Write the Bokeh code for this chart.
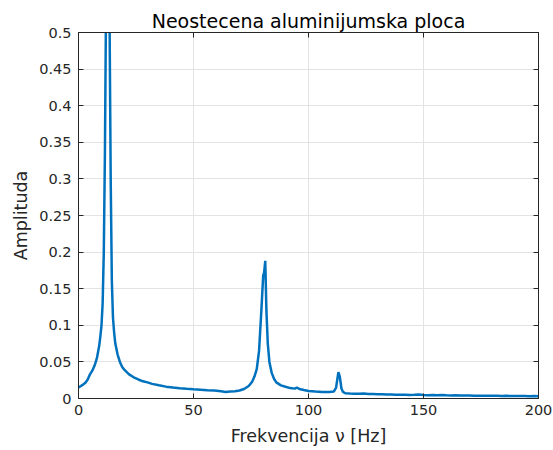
from bokeh.plotting import figure
from bokeh.models import LinearAxis, FixedTicker, Range1d
from bokeh.embed import file_html
from bokeh.resources import INLINE

# Spectrum of the untreated aluminium plate
freq_hz = [0, 1, 2, 3, 4, 5, 6, 7, 8, 9, 9.5, 10, 10.5, 11, 11.5, 12, 12.5, 13, 13.5, 14,
           14.5, 15, 15.5, 16, 17, 18, 19, 20, 22, 24, 26, 28, 30, 32, 35, 38, 41, 44, 47, 50,
           53, 56, 59, 62, 64, 66, 68, 70, 72, 74, 75.5, 76.5, 77.5, 78.5, 79.5, 80.3, 80.7,
           81.2, 81.7, 82.3, 83, 84, 85, 86, 88, 90, 92, 94, 95, 96, 98, 100, 103, 106, 109,
           111, 112, 113, 113.6, 114.3, 115, 116, 118, 120, 122, 124, 126, 128, 130, 132, 134,
           136, 138, 140, 142, 144, 146, 148, 150, 152, 154, 156, 158, 160, 162, 164, 166, 168,
           170, 172, 174, 176, 178, 180, 182, 184, 186, 188, 190, 192, 194, 196, 198, 200]
amplitude = [0.0152, 0.0170, 0.0190, 0.0215, 0.0260, 0.0330, 0.0380, 0.0450, 0.0550, 0.0720,
             0.0850, 0.1000, 0.1300, 0.2000, 0.3400, 0.5500, 1.1000, 0.9000, 0.5200, 0.3000,
             0.1600, 0.1100, 0.0900, 0.0750, 0.0600, 0.0500, 0.0430, 0.0390, 0.0330, 0.0290,
             0.0260, 0.0235, 0.0220, 0.0200, 0.0180, 0.0162, 0.0150, 0.0140, 0.0132, 0.0125,
             0.0120, 0.0112, 0.0110, 0.0100, 0.0090, 0.0095, 0.0100, 0.0110, 0.0130, 0.0170,
             0.0230, 0.0300, 0.0400, 0.0650, 0.1200, 0.1680, 0.1720, 0.1880, 0.1200, 0.0750,
             0.0500, 0.0350, 0.0270, 0.0220, 0.0180, 0.0160, 0.0142, 0.0135, 0.0150, 0.0130,
             0.0115, 0.0102, 0.0095, 0.0090, 0.0088, 0.0095, 0.0150, 0.0360, 0.0300, 0.0140,
             0.0090, 0.0072, 0.0068, 0.0066, 0.0065, 0.0068, 0.0062, 0.0060, 0.0058, 0.0057,
             0.0055, 0.0054, 0.0052, 0.0050, 0.0052, 0.0049, 0.0050, 0.0053, 0.0048, 0.0046,
             0.0047, 0.0045, 0.0048, 0.0044, 0.0042, 0.0043, 0.0041, 0.0040, 0.0041, 0.0039,
             0.0038, 0.0039, 0.0037, 0.0036, 0.0037, 0.0035, 0.0036, 0.0034, 0.0035, 0.0033,
             0.0034, 0.0032, 0.0033, 0.0032]

x_ticks = [0, 50, 100, 150, 200]
y_ticks = [0, 0.05, 0.1, 0.15, 0.2, 0.25, 0.3, 0.35, 0.4, 0.45, 0.5]
y_tick_labels = ["0", "0.05", "0.1", "0.15", "0.2", "0.25", "0.3", "0.35", "0.4", "0.45", "0.5"]

FONT = "DejaVu Sans"
INK = "#262626"

p = figure(width=553, height=450, output_backend="svg", toolbar_location=None,
           x_range=Range1d(0, 200), y_range=Range1d(0, 0.5),
           min_border_left=78, min_border_right=15, min_border_top=32, min_border_bottom=52,
           title="Neostecena aluminijumska ploca")
p.background_fill_color = "white"
p.border_fill_color = "white"
p.outline_line_color = INK
p.outline_line_width = 1

p.title.align = "center"
p.title.text_font = FONT
p.title.text_font_size = "19px"
p.title.text_font_style = "normal"
p.title.text_color = "black"
p.title.offset = 0
p.title.standoff = 2

p.line(freq_hz, amplitude, line_color="#0072BD", line_width=2.5)

p.xaxis.ticker = FixedTicker(ticks=x_ticks)
p.yaxis.ticker = FixedTicker(ticks=y_ticks)
p.yaxis.major_label_overrides = {t: s for t, s in zip(y_ticks, y_tick_labels)}
p.xaxis.axis_label = "Frekvencija ν [Hz]"
p.yaxis.axis_label = "Amplituda"

for ax in (p.xaxis[0], p.yaxis[0]):
    ax.axis_line_color = INK
    ax.major_tick_line_color = INK
    ax.major_tick_in = 5
    ax.major_tick_out = 0
    ax.minor_tick_line_color = None
    ax.major_label_text_font = FONT
    ax.major_label_text_font_size = "14.5px"
    ax.major_label_text_color = INK
    ax.axis_label_text_font = FONT
    ax.axis_label_text_font_size = "17.5px"
    ax.axis_label_text_font_style = "normal"
    ax.axis_label_text_color = INK
p.xaxis.major_label_standoff = 6
p.xaxis.axis_label_standoff = 8
p.yaxis.major_label_standoff = 7
p.yaxis.axis_label_standoff = 5

# tick marks along the top and right edges of the box, without labels
top = LinearAxis(ticker=FixedTicker(ticks=x_ticks),
                 major_label_overrides={t: "" for t in x_ticks},
                 major_tick_in=5, major_tick_out=0, minor_tick_line_color=None,
                 axis_line_color=INK, major_tick_line_color=INK, major_label_standoff=0)
right = LinearAxis(ticker=FixedTicker(ticks=y_ticks),
                   major_label_overrides={t: "" for t in y_ticks},
                   major_tick_in=5, major_tick_out=0, minor_tick_line_color=None,
                   axis_line_color=INK, major_tick_line_color=INK, major_label_standoff=0)
p.add_layout(top, "above")
p.add_layout(right, "right")

p.xgrid.grid_line_color = "#e3e3e3"
p.ygrid.grid_line_color = "#e3e3e3"
p.xgrid.grid_line_width = 1
p.ygrid.grid_line_width = 1

open("out.html", "w").write(file_html(p, INLINE))
